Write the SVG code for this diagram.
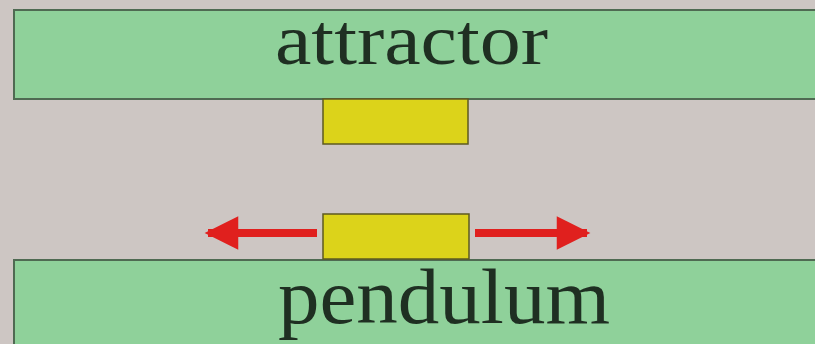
<svg xmlns="http://www.w3.org/2000/svg" width="815" height="344" viewBox="0 0 815 344">
<style>
.plate{fill:#8fd19a;stroke:#4f6a52;stroke-width:2}
.block{fill:#dcd31a;stroke:#5d5a20;stroke-width:1.5}
.lbl{font-family:"Liberation Serif","Times New Roman",serif;fill:#1f2f22;text-anchor:start}
.arr{stroke:#e0201e;stroke-width:8;fill:none}
</style>
<defs>
<marker id="ah" viewBox="0 0 10 10" refX="9" refY="5" markerWidth="4.6" markerHeight="4.2" orient="auto" markerUnits="strokeWidth">
<path d="M0,0 L10,5 L0,10 z" fill="#e0201e"/>
</marker>
</defs>
<rect width="815" height="344" fill="#cdc6c3"/>
<g id="attractor">
<rect class="plate" x="14" y="10" width="815" height="89"/>
<text class="lbl" x="275" y="64" font-size="71" textLength="273" lengthAdjust="spacingAndGlyphs">attractor</text>
</g>
<g id="attractor-block">
<rect class="block" x="323" y="99" width="145" height="45"/>
</g>
<g id="pendulum">
<rect class="plate" x="14" y="260" width="815" height="100"/>
<text class="lbl" x="278" y="323" font-size="79" textLength="332" lengthAdjust="spacingAndGlyphs">pendulum</text>
</g>
<g id="pendulum-block">
<rect class="block" x="323" y="214" width="146" height="45"/>
</g>
<g id="connectors">
<line class="arr" x1="317" y1="233" x2="208" y2="233" marker-end="url(#ah)"/>
<line class="arr" x1="475" y1="233" x2="587" y2="233" marker-end="url(#ah)"/>
</g>
</svg>
